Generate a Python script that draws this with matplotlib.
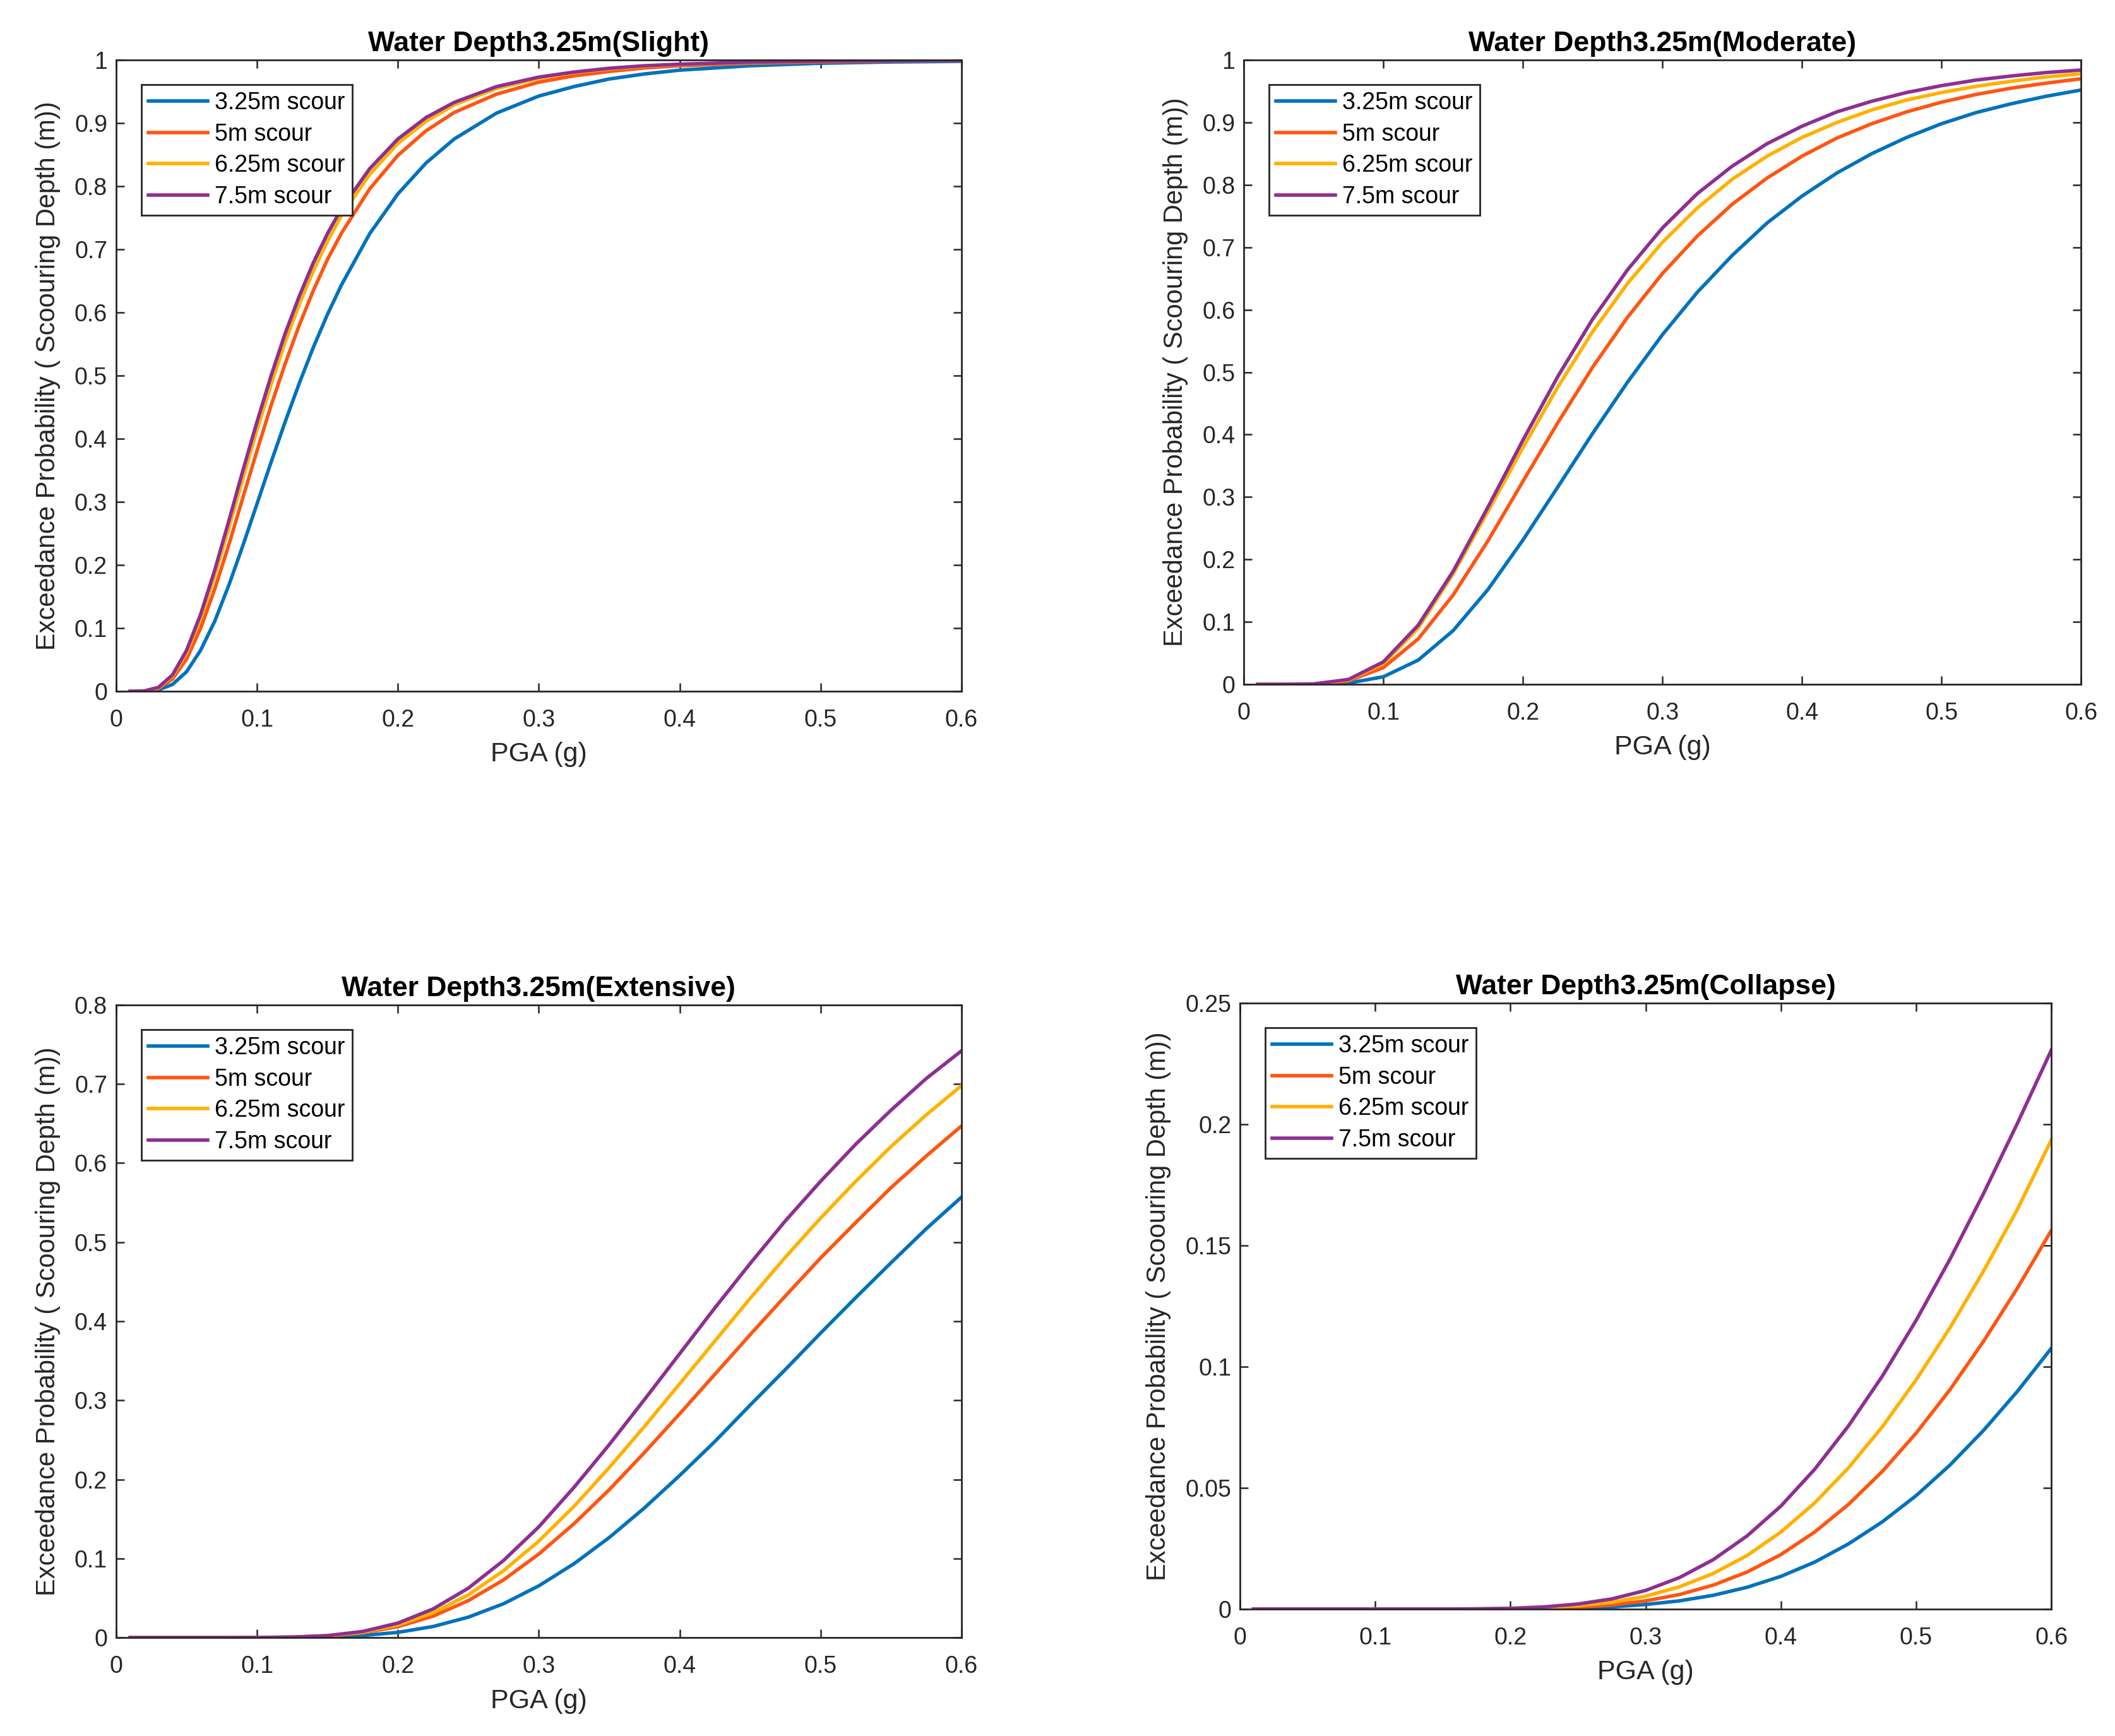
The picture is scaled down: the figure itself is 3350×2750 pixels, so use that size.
import matplotlib
matplotlib.use('Agg')
import matplotlib.pyplot as plt
from matplotlib.ticker import FuncFormatter, MultipleLocator

plt.rcParams['font.family'] = ['Liberation Sans', 'DejaVu Sans']

# PGA grid (g)
pga_a = [0.01, 0.02, 0.03, 0.04, 0.05, 0.06, 0.07, 0.08, 0.09, 0.10, 0.11, 0.12, 0.13, 0.14,
         0.15, 0.16, 0.18, 0.20, 0.22, 0.24, 0.27, 0.30, 0.325, 0.35, 0.375, 0.40, 0.45, 0.50, 0.55, 0.60]
pga_b = [0.01, 0.025, 0.05, 0.075, 0.10, 0.125, 0.15, 0.175, 0.20, 0.225, 0.25, 0.275, 0.30,
         0.325, 0.35, 0.375, 0.40, 0.425, 0.45, 0.475, 0.50, 0.525, 0.55, 0.575, 0.60]

# Slight
slight_325 = [0.0, 0.0001, 0.0022, 0.0108, 0.031, 0.065, 0.111, 0.168, 0.231, 0.297, 0.363, 0.427, 0.488, 0.545,
              0.597, 0.644, 0.725, 0.788, 0.837, 0.875, 0.916, 0.943, 0.958, 0.970, 0.978, 0.984, 0.991, 0.995,
              0.997, 0.998]
slight_5 = [0.0, 0.0003, 0.0044, 0.0195, 0.051, 0.100, 0.162, 0.232, 0.307, 0.381, 0.453, 0.519, 0.580, 0.635,
            0.684, 0.726, 0.796, 0.849, 0.888, 0.917, 0.946, 0.965, 0.975, 0.982, 0.9875, 0.991, 0.995, 0.997,
            0.9985, 0.9992]
slight_625 = [0.0, 0.0005, 0.0057, 0.0239, 0.0605, 0.115, 0.183, 0.259, 0.337, 0.414, 0.486, 0.553, 0.613, 0.666,
              0.713, 0.754, 0.819, 0.868, 0.903, 0.929, 0.955, 0.971, 0.980, 0.986, 0.990, 0.993, 0.996, 0.998,
              0.999, 0.9994]
slight_75 = [0.0, 0.0005, 0.0062, 0.0259, 0.0648, 0.122, 0.192, 0.270, 0.350, 0.427, 0.500, 0.567, 0.626, 0.679,
             0.725, 0.765, 0.828, 0.875, 0.909, 0.933, 0.958, 0.973, 0.981, 0.987, 0.991, 0.9935, 0.9966, 0.9982,
             0.999, 0.9994]

# Moderate
moderate_325 = [0, 0, 0.0001, 0.002, 0.0121, 0.0388, 0.086, 0.152, 0.231, 0.316, 0.402, 0.484, 0.560,
                0.628, 0.687, 0.739, 0.782, 0.819, 0.850, 0.876, 0.898, 0.916, 0.930, 0.942, 0.952]
moderate_5 = [0, 0, 0.0003, 0.0055, 0.0268, 0.0728, 0.143, 0.230, 0.325, 0.419, 0.508, 0.588, 0.658,
              0.718, 0.769, 0.811, 0.846, 0.875, 0.898, 0.917, 0.9325, 0.945, 0.955, 0.963, 0.970]
moderate_625 = [0, 0, 0.0005, 0.0068, 0.033, 0.090, 0.177, 0.277, 0.379, 0.476, 0.565, 0.642, 0.708,
                0.763, 0.809, 0.846, 0.876, 0.900, 0.920, 0.936, 0.948, 0.958, 0.966, 0.973, 0.978]
moderate_75 = [0, 0, 0.0006, 0.0078, 0.036, 0.0948, 0.181, 0.284, 0.391, 0.493, 0.585, 0.664, 0.731,
               0.786, 0.830, 0.866, 0.894, 0.917, 0.934, 0.948, 0.959, 0.968, 0.9745, 0.980, 0.984]

# Extensive
extensive_325 = [0, 0, 0, 0, 0.00002, 0.0002, 0.0008, 0.0026, 0.0066, 0.014, 0.0258, 0.0428, 0.0654,
                 0.0934, 0.1265, 0.164, 0.205, 0.248, 0.294, 0.339, 0.385, 0.430, 0.474, 0.517, 0.557]
extensive_5 = [0, 0, 0, 0, 0.0001, 0.0005, 0.002, 0.006, 0.0138, 0.0271, 0.0467, 0.073, 0.1056,
               0.144, 0.187, 0.234, 0.283, 0.333, 0.383, 0.432, 0.480, 0.525, 0.569, 0.609, 0.647]
extensive_625 = [0, 0, 0, 0, 0.0001, 0.0005, 0.0022, 0.0067, 0.0159, 0.0313, 0.0541, 0.0846, 0.122,
                 0.166, 0.215, 0.267, 0.321, 0.375, 0.429, 0.481, 0.5305, 0.577, 0.621, 0.661, 0.698]
extensive_75 = [0, 0, 0, 0, 0.0001, 0.0006, 0.0025, 0.0077, 0.0183, 0.0362, 0.0625, 0.0975, 0.140,
                0.190, 0.244, 0.301, 0.359, 0.417, 0.473, 0.527, 0.577, 0.624, 0.667, 0.707, 0.742]

# Collapse
collapse_325 = [0, 0, 0, 0, 0, 0, 0, 0, 0.00005, 0.00016, 0.0004, 0.0009, 0.0019,
                0.0034, 0.0057, 0.009, 0.0135, 0.0194, 0.0269, 0.036, 0.0468, 0.0594, 0.0738, 0.0899, 0.1076]
collapse_5 = [0, 0, 0, 0, 0, 0, 0, 0.00003, 0.0001, 0.0003, 0.0008, 0.0017, 0.0034,
              0.006, 0.0099, 0.0153, 0.0225, 0.0318, 0.0432, 0.0568, 0.0726, 0.0905, 0.1106, 0.1325, 0.1562]
collapse_625 = [0, 0, 0, 0, 0, 0, 0, 0.0001, 0.0002, 0.0006, 0.0014, 0.0028, 0.0053,
                0.0092, 0.0147, 0.0221, 0.0318, 0.0438, 0.0583, 0.0752, 0.0946, 0.116, 0.1396, 0.165, 0.1935]
collapse_75 = [0, 0, 0, 0, 0, 0, 0, 0.0001, 0.0003, 0.0009, 0.0021, 0.0042, 0.0077,
               0.013, 0.0204, 0.0302, 0.0425, 0.0577, 0.0756, 0.0961, 0.1191, 0.1443, 0.1716, 0.2005, 0.2306]

labels = ['3.25m scour', '5m scour', '6.25m scour', '7.5m scour']
colors = ['#0072BD', '#FF5511', '#FFB100', '#8E2F91']
states = ['Slight', 'Moderate', 'Extensive', 'Collapse']
ymax = [1.0, 1.0, 0.8, 0.25]
ystep = [0.1, 0.1, 0.1, 0.05]

curves = [
    (pga_a, [slight_325, slight_5, slight_625, slight_75]),
    (pga_b, [moderate_325, moderate_5, moderate_625, moderate_75]),
    (pga_b, [extensive_325, extensive_5, extensive_625, extensive_75]),
    (pga_b, [collapse_325, collapse_5, collapse_625, collapse_75]),
]

# axes rectangles (figure fraction)
rects = [
    [0.0549, 0.6018, 0.3997, 0.3636],
    [0.5881, 0.6058, 0.3958, 0.3596],
    [0.0549, 0.0567, 0.3997, 0.3644],
    [0.5863, 0.0731, 0.3836, 0.3491],
]

W, H = 3350, 2750
fig = plt.figure(figsize=(W / 200, H / 200), dpi=200)
fig.patch.set_facecolor('white')

fmt = FuncFormatter(lambda v, p: '%g' % round(v, 4))
dark = '#262626'

for i in range(4):
    ax = fig.add_axes(rects[i])
    x, ys = curves[i]
    for y, c, lab in zip(ys, colors, labels):
        ax.plot(x, y, color=c, lw=2.0, label=lab)

    ax.set_xlim(0, 0.6)
    ax.set_ylim(0, ymax[i])
    ax.xaxis.set_major_locator(MultipleLocator(0.1))
    ax.yaxis.set_major_locator(MultipleLocator(ystep[i]))
    ax.xaxis.set_major_formatter(fmt)
    ax.yaxis.set_major_formatter(fmt)
    ax.tick_params(direction='in', top=True, right=True, length=4.7, width=0.9,
                   labelsize=13.5, colors=dark)
    ax.tick_params(axis='x', pad=10)
    ax.tick_params(axis='y', pad=5)
    for s in ax.spines.values():
        s.set_linewidth(1.0)
        s.set_color(dark)

    ax.set_title('Water Depth3.25m(%s)' % states[i], fontsize=16, fontweight='bold', pad=5)
    ax.set_xlabel('PGA (g)', fontsize=15.5, color=dark, labelpad=6)
    ax.set_ylabel('Exceedance Probability ( Scoouring Depth (m))', fontsize=15, color=dark, labelpad=8)

    wpx = rects[i][2] * W
    hpx = rects[i][3] * H
    leg = ax.legend(loc='upper left', bbox_to_anchor=(40 / wpx, 1 - 39 / hpx), borderaxespad=0,
                    fontsize=13.5, frameon=True, fancybox=False, framealpha=1, edgecolor=dark,
                    handlelength=2.5, handletextpad=0.3, borderpad=0.3, labelspacing=0.36)
    leg.get_frame().set_linewidth(1.0)

fig.savefig('out.png', dpi=200, facecolor='white')
